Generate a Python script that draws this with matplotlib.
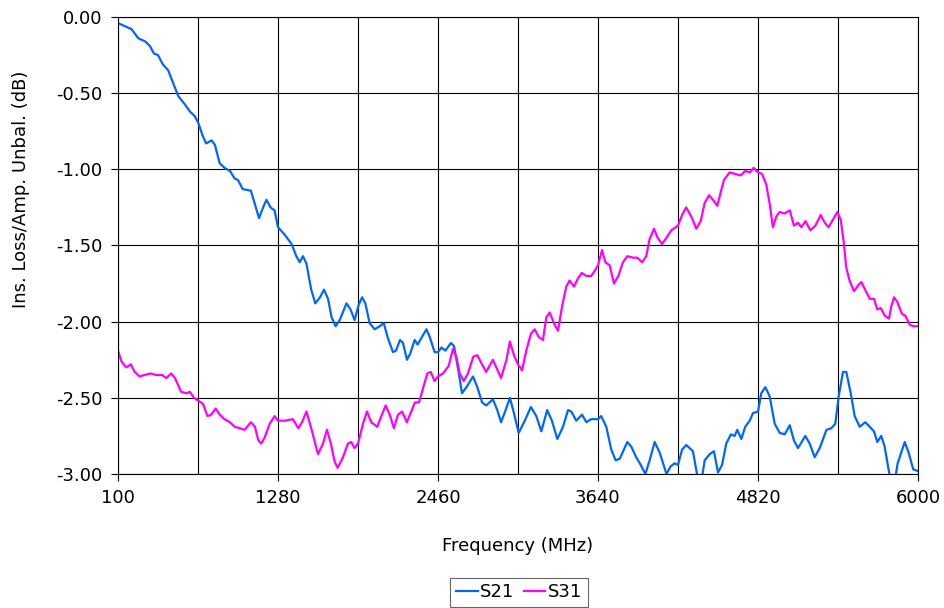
import matplotlib.pyplot as plt
from matplotlib.ticker import FixedLocator, FuncFormatter

# S21 insertion loss (MHz, dB)
s21_freq = [100, 150, 200, 250, 300, 335, 365, 395, 430, 470, 505, 545, 590, 630,
            665, 690, 725, 750, 790, 815, 850, 885, 925, 960, 985, 1020, 1080, 1110,
            1140, 1170, 1195, 1225, 1255, 1280, 1330, 1380, 1415, 1440, 1464, 1490,
            1525, 1555, 1590, 1619, 1649, 1675, 1705, 1735, 1785, 1815, 1845, 1875,
            1900, 1924, 1956, 1993, 2030, 2060, 2091, 2128, 2150, 2180, 2202, 2231,
            2255, 2288, 2310, 2342, 2375, 2399, 2435, 2460, 2485, 2515, 2555, 2578,
            2610, 2637, 2670, 2718, 2750, 2785, 2815, 2865, 2897, 2925, 2959, 2990,
            3020, 3055, 3100, 3145, 3185, 3222, 3265, 3300, 3340, 3382, 3419, 3443,
            3480, 3522, 3554, 3590, 3640, 3664, 3701, 3738, 3770, 3800, 3856, 3885,
            3922, 3955, 3989, 4021, 4058, 4095, 4145, 4176, 4205, 4230, 4260, 4291,
            4340, 4372, 4402, 4427, 4464, 4495, 4525, 4555, 4586, 4620, 4648, 4667,
            4697, 4726, 4759, 4783, 4820, 4844, 4874, 4906, 4943, 4980, 5017, 5054,
            5085, 5115, 5169, 5201, 5238, 5275, 5325, 5360, 5390, 5415, 5447, 5471,
            5504, 5533, 5570, 5611, 5644, 5675, 5700, 5729, 5754, 5779, 5800, 5828,
            5850, 5902, 5931, 5965, 6000]
s21_db = [-0.04, -0.06, -0.08, -0.14, -0.16, -0.19, -0.24, -0.25, -0.31, -0.35,
          -0.43, -0.52, -0.57, -0.62, -0.65, -0.69, -0.78, -0.83, -0.81, -0.84,
          -0.96, -0.99, -1.01, -1.06, -1.07, -1.13, -1.14, -1.23, -1.32, -1.25,
          -1.20, -1.25, -1.27, -1.38, -1.43, -1.49, -1.57, -1.61, -1.57, -1.62,
          -1.79, -1.88, -1.84, -1.79, -1.85, -1.97, -2.03, -1.99, -1.88, -1.92,
          -1.99, -1.89, -1.84, -1.88, -2.01, -2.05, -2.03, -2.01, -2.11, -2.20,
          -2.19, -2.12, -2.14, -2.25, -2.21, -2.12, -2.15, -2.10, -2.05, -2.10,
          -2.20, -2.20, -2.17, -2.19, -2.14, -2.16, -2.32, -2.47, -2.43, -2.36,
          -2.43, -2.53, -2.55, -2.51, -2.58, -2.66, -2.58, -2.50, -2.60, -2.73,
          -2.65, -2.56, -2.62, -2.72, -2.58, -2.65, -2.77, -2.69, -2.58, -2.59,
          -2.65, -2.61, -2.66, -2.64, -2.64, -2.62, -2.69, -2.84, -2.91, -2.90,
          -2.79, -2.82, -2.89, -2.94, -3.00, -2.91, -2.79, -2.86, -3.00, -2.95,
          -2.93, -2.94, -2.84, -2.81, -2.85, -3.01, -3.05, -2.91, -2.87, -2.85,
          -2.99, -2.94, -2.80, -2.74, -2.75, -2.71, -2.77, -2.69, -2.65, -2.60,
          -2.59, -2.47, -2.43, -2.49, -2.67, -2.73, -2.74, -2.68, -2.78, -2.83,
          -2.75, -2.80, -2.89, -2.83, -2.71, -2.70, -2.67, -2.49, -2.33, -2.33,
          -2.47, -2.62, -2.69, -2.66, -2.69, -2.72, -2.79, -2.75, -2.82, -2.95,
          -3.05, -3.05, -2.93, -2.79, -2.86, -2.97, -2.98]

# S31 (MHz, dB)
s31_freq = [100, 125, 160, 195, 223, 260, 295, 341, 380, 425, 456, 493, 520, 565,
            605, 630, 660, 695, 727, 760, 788, 820, 850, 885, 925, 960, 1000, 1034,
            1080, 1110, 1135, 1157, 1182, 1219, 1255, 1280, 1330, 1390, 1430, 1457,
            1490, 1525, 1575, 1612, 1641, 1670, 1698, 1720, 1759, 1796, 1820, 1845,
            1870, 1907, 1936, 1968, 2012, 2042, 2074, 2104, 2135, 2165, 2195, 2230,
            2263, 2290, 2320, 2349, 2381, 2406, 2435, 2460, 2497, 2539, 2570, 2595,
            2620, 2650, 2681, 2720, 2750, 2779, 2815, 2865, 2895, 2925, 2965, 2990,
            3020, 3050, 3080, 3111, 3145, 3173, 3202, 3234, 3259, 3284, 3315, 3345,
            3375, 3406, 3430, 3463, 3490, 3520, 3555, 3590, 3620, 3640, 3670, 3694,
            3726, 3758, 3790, 3824, 3856, 3898, 3930, 3965, 3996, 4020, 4053, 4080,
            4112, 4145, 4181, 4230, 4260, 4290, 4328, 4365, 4397, 4427, 4459, 4488,
            4520, 4545, 4569, 4611, 4650, 4692, 4726, 4760, 4788, 4820, 4850, 4881,
            4905, 4930, 4955, 4980, 5015, 5055, 5085, 5115, 5139, 5170, 5206, 5243,
            5282, 5312, 5341, 5373, 5405, 5430, 5454, 5470, 5495, 5528, 5560, 5582,
            5610, 5645, 5675, 5700, 5725, 5755, 5786, 5803, 5823, 5847, 5882, 5906,
            5939, 5970, 6000]
s31_db = [-2.19, -2.26, -2.30, -2.28, -2.33, -2.36, -2.35, -2.34, -2.35, -2.35,
          -2.37, -2.34, -2.37, -2.46, -2.47, -2.46, -2.50, -2.52, -2.54, -2.62,
          -2.61, -2.57, -2.61, -2.64, -2.66, -2.69, -2.70, -2.71, -2.66, -2.69,
          -2.78, -2.80, -2.76, -2.67, -2.62, -2.65, -2.65, -2.64, -2.70, -2.66,
          -2.59, -2.70, -2.87, -2.80, -2.71, -2.80, -2.92, -2.96, -2.89, -2.80,
          -2.79, -2.83, -2.80, -2.67, -2.59, -2.66, -2.69, -2.62, -2.55, -2.61,
          -2.70, -2.61, -2.59, -2.66, -2.59, -2.53, -2.53, -2.44, -2.34, -2.33,
          -2.39, -2.36, -2.34, -2.29, -2.18, -2.23, -2.34, -2.39, -2.34, -2.23,
          -2.22, -2.27, -2.33, -2.25, -2.31, -2.37, -2.25, -2.13, -2.22, -2.28,
          -2.32, -2.19, -2.08, -2.05, -2.10, -2.12, -1.97, -1.94, -2.01, -2.06,
          -1.90, -1.77, -1.73, -1.77, -1.72, -1.68, -1.70, -1.70, -1.66, -1.63,
          -1.53, -1.61, -1.63, -1.75, -1.70, -1.61, -1.57, -1.58, -1.58, -1.61,
          -1.57, -1.46, -1.39, -1.45, -1.49, -1.45, -1.40, -1.37, -1.30, -1.25,
          -1.31, -1.39, -1.34, -1.22, -1.17, -1.20, -1.24, -1.15, -1.07, -1.02,
          -1.03, -1.04, -1.01, -1.02, -0.99, -1.02, -1.03, -1.10, -1.22, -1.38,
          -1.31, -1.28, -1.29, -1.27, -1.37, -1.35, -1.38, -1.34, -1.40, -1.37,
          -1.30, -1.35, -1.38, -1.33, -1.28, -1.33, -1.49, -1.64, -1.73, -1.80,
          -1.76, -1.74, -1.79, -1.85, -1.85, -1.92, -1.91, -1.96, -1.98, -1.90,
          -1.84, -1.87, -1.95, -1.96, -2.02, -2.03, -2.03]

x_ticks = [100, 1280, 2460, 3640, 4820, 6000]
x_grid = [690, 1870, 3050, 4230, 5410]
y_ticks = [0.0, -0.5, -1.0, -1.5, -2.0, -2.5, -3.0]

fs = 13
plt.rcParams['font.family'] = 'DejaVu Sans'

fig = plt.figure(figsize=(9.45, 6.08), dpi=100)
ax = fig.add_axes([118 / 945, 1 - 474 / 608, 800 / 945, 457 / 608])

ax.plot(s21_freq, s21_db, color='#0066ff', lw=1.6, label='S21')
ax.plot(s31_freq, s31_db, color='#ff00ff', lw=1.6, label='S31')

ax.set_xlim(100, 6000)
ax.set_ylim(-3.0, 0.0)
ax.xaxis.set_major_locator(FixedLocator(x_ticks))
ax.xaxis.set_minor_locator(FixedLocator(x_grid))
ax.yaxis.set_major_locator(FixedLocator(y_ticks))
ax.yaxis.set_major_formatter(FuncFormatter(lambda v, p: f"{abs(v):.2f}" if v == 0 else f"{v:.2f}"))

ax.set_axisbelow(True)
ax.grid(True, which='both', color='black', lw=0.8)
ax.tick_params(which='major', direction='out', length=5, width=0.8, labelsize=fs, pad=6)
ax.tick_params(which='minor', length=0)
for sp in ax.spines.values():
    sp.set_color('black')
    sp.set_linewidth(0.8)

ax.set_xlabel('Frequency (MHz)', fontsize=fs)
ax.xaxis.label.set_va('center')
ax.xaxis.set_label_coords(0.5, -0.1575)
ax.set_ylabel('Ins. Loss/Amp. Unbal. (dB)', fontsize=fs)
ax.yaxis.label.set_va('center')
ax.yaxis.set_label_coords(-0.121, 0.624)

leg = fig.legend(loc='upper center', bbox_to_anchor=(519 / 945, 1 - 578 / 608), ncol=2,
                 fontsize=fs, frameon=True, fancybox=False, handlelength=1.2,
                 handletextpad=0.15, columnspacing=0.5, borderpad=0.3, borderaxespad=0)
leg.get_frame().set_edgecolor('#404040')
leg.get_frame().set_linewidth(0.8)

fig.savefig('out.png', dpi=100)
